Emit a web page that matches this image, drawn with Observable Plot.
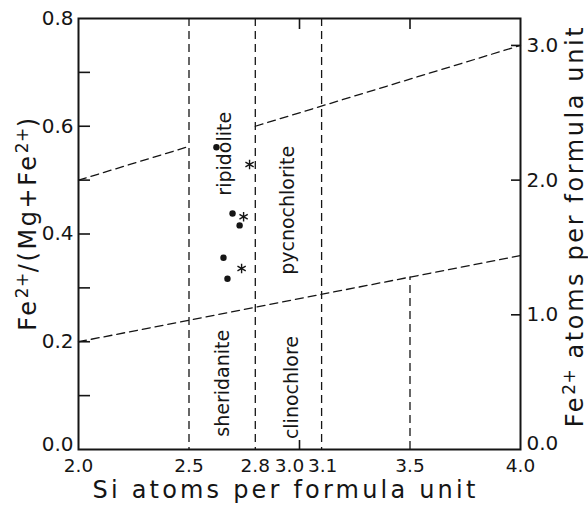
<!DOCTYPE html>
<html><head><meta charset="utf-8">
<script src="https://cdn.jsdelivr.net/npm/d3@7"></script>
<script src="https://cdn.jsdelivr.net/npm/@observablehq/plot@0.6"></script>
<style>html,body{margin:0;padding:0;background:#fff}svg{display:block}</style>
</head><body><div id="chart"></div>
<script>
// ---- data ----
const xTitle = "Si atoms per formula unit";
const yTitle = "Fe2+/(Mg+Fe2+)";
const y2Title = "Fe2+ atoms per formula unit";
const superscript = "2+";
const xTickLabels = [2.0, 2.5, 2.8, 3.0, 3.1, 3.5, 4.0];
const xCrowdedLeft = [3.0];
const xCrowdedRight = [3.1];
const yTickLabels = [0.0, 0.2, 0.4, 0.6, 0.8];
const yMinorTicks = [0.1, 0.2, 0.3, 0.4, 0.5, 0.6, 0.7];
const feTickLabels = [0.0, 1.0, 2.0, 3.0];
const feInnerTicks = [1.0, 2.0, 3.0];
const feFactor = 4; // Fe atoms = 4 * ratio
const topTicks = [3.0, 3.5];
const bottomTicks = [3.0];

const upperLeftSi = [2.0, 2.5];
const upperLeftRatio = [0.5, 0.5625];
const upperRightSi = [2.8, 4.0];
const upperRightRatio = [0.6, 0.75];
const lowerSi = [2.0, 4.0];
const lowerRatio = [0.2, 0.36];
const fullVerticalSi = [2.5, 2.8, 3.1];
const partialVerticalSi = [3.5];
const partialVerticalTop = [0.32];

const dotSi = [2.624, 2.697, 2.729, 2.656, 2.674];
const dotRatio = [0.561, 0.438, 0.416, 0.356, 0.317];
const starSi = [2.747, 2.738, 2.774];
const starRatio = [0.432, 0.336, 0.529];

const fieldNames = ["ripidolite", "pycnochlorite", "sheridanite", "clinochlore"];
const fieldSi = [2.661, 2.946, 2.654, 2.964];
const fieldRatio = [0.549, 0.444, 0.123, 0.115];

// ---- chart ----
const ink = "#151515";
const dash = {stroke: ink, strokeWidth: 1.3, strokeDasharray: "8,5"};
const pairs = (xs, ys) => xs.map((x, i) => ({x, y: ys[i]}));
const crowded = v => xCrowdedLeft.includes(v) || xCrowdedRight.includes(v);
const bottomLabelBase = {anchor: "bottom", tickSize: 0, tickPadding: 9, tickFormat: ".1f", fontSize: 18.5, label: null};
const yZero = yTickLabels.filter(v => v === 0);
const yNonZero = yTickLabels.filter(v => v !== 0);
const feZero = feTickLabels.filter(v => v === 0);
const feNonZero = feTickLabels.filter(v => v !== 0);

const chart = Plot.plot({
  width: 588, height: 507,
  marginLeft: 78, marginRight: 68, marginTop: 18, marginBottom: 58,
  style: {fontFamily: "DejaVu Sans", color: ink, background: "white", overflow: "visible"},
  x: {domain: [2, 4], axis: null},
  y: {domain: [0, 0.8], axis: null},
  marks: [
    Plot.line(pairs(upperLeftSi, upperLeftRatio), {x: "x", y: "y", ...dash}),
    Plot.line(pairs(upperRightSi, upperRightRatio), {x: "x", y: "y", ...dash}),
    Plot.line(pairs(lowerSi, lowerRatio), {x: "x", y: "y", ...dash}),
    Plot.ruleX(fullVerticalSi, {...dash}),
    Plot.ruleX(partialVerticalSi, {x: partialVerticalSi, y1: 0, y2: partialVerticalTop, ...dash}),
    Plot.frame({stroke: ink, strokeWidth: 2}),
    // bottom axis
    Plot.axisX({...bottomLabelBase, ticks: xTickLabels.filter(v => !crowded(v))}),
    Plot.axisX({...bottomLabelBase, ticks: xCrowdedLeft, dx: -10}),
    Plot.axisX({...bottomLabelBase, ticks: xCrowdedRight, dx: 1}),
    Plot.axisX({anchor: "bottom", ticks: bottomTicks, tickSize: 9, dy: -9, text: null, label: null, stroke: ink, strokeWidth: 1.6}),
    Plot.axisX({anchor: "top", ticks: topTicks, tickSize: 10, dy: 10, text: null, label: null, stroke: ink, strokeWidth: 1.6}),
    // left axis
    Plot.axisY({anchor: "left", ticks: yNonZero, tickSize: 0, tickPadding: 5, tickFormat: ".1f", fontSize: 20, label: null}),
    Plot.axisY({anchor: "left", ticks: yZero, tickSize: 0, tickPadding: 5, dy: -5, tickFormat: ".1f", fontSize: 20, label: null}),
    Plot.axisY({anchor: "left", ticks: yMinorTicks, tickSize: 12, dx: 12, text: null, label: null, stroke: ink, strokeWidth: 1.6}),
    // right axis
    Plot.axisY({anchor: "right", ticks: feNonZero.map(v => v / feFactor), tickSize: 0, tickPadding: 6,
      tickFormat: d => (d * feFactor).toFixed(1), fontSize: 20, label: null}),
    Plot.axisY({anchor: "right", ticks: feZero.map(v => v / feFactor), tickSize: 0, tickPadding: 6, dy: -6,
      tickFormat: d => (d * feFactor).toFixed(1), fontSize: 20, label: null}),
    Plot.axisY({anchor: "right", ticks: feInnerTicks.map(v => v / feFactor), tickSize: 10, dx: -10, text: null, label: null, stroke: ink, strokeWidth: 1.6}),
    // titles
    Plot.text([xTitle], {frameAnchor: "bottom", dx: -14, dy: 41, fontSize: 24, textAnchor: "middle", lineAnchor: "middle", fill: ink}),
    Plot.text([yTitle], {frameAnchor: "left", rotate: -90, dx: -50, dy: -11, fontSize: 24, textAnchor: "middle", lineAnchor: "middle", fill: ink}),
    Plot.text([y2Title], {frameAnchor: "right", rotate: -90, dx: 55, dy: -8, fontSize: 24, textAnchor: "middle", lineAnchor: "middle", fill: ink}),
    // field names
    Plot.text(fieldNames, {x: fieldSi, y: fieldRatio, rotate: -90, fontSize: 19, lineAnchor: "middle", fill: ink}),
    // samples
    Plot.dot(dotSi, {x: dotSi, y: dotRatio, r: 3.2, fill: ink, stroke: null}),
    Plot.dot(starSi, {x: starSi, y: starRatio, symbol: "asterisk", r: 4.5, stroke: ink, strokeWidth: 1.4})
  ]
});

// letter spacing and raised "2+" for the axis titles
const titles = new Set([xTitle, yTitle, y2Title]);
d3.select(chart).selectAll("text").each(function() {
  const s = this.textContent;
  if (!titles.has(s)) return;
  this.style.letterSpacing = s === xTitle ? "3.2px" : "2.6px";
  if (!s.includes(superscript)) return;
  const parts = s.split(superscript);
  while (this.firstChild) this.removeChild(this.firstChild);
  parts.forEach((p, i) => {
    if (p) this.appendChild(document.createTextNode(p));
    if (i < parts.length - 1) {
      const t = document.createElementNS("http://www.w3.org/2000/svg", "tspan");
      t.setAttribute("baseline-shift", "45%");
      t.setAttribute("font-size", "17");
      t.style.letterSpacing = "0.5px";
      t.textContent = superscript;
      this.appendChild(t);
    }
  });
});
document.getElementById("chart").appendChild(chart);
</script>
</body></html>
